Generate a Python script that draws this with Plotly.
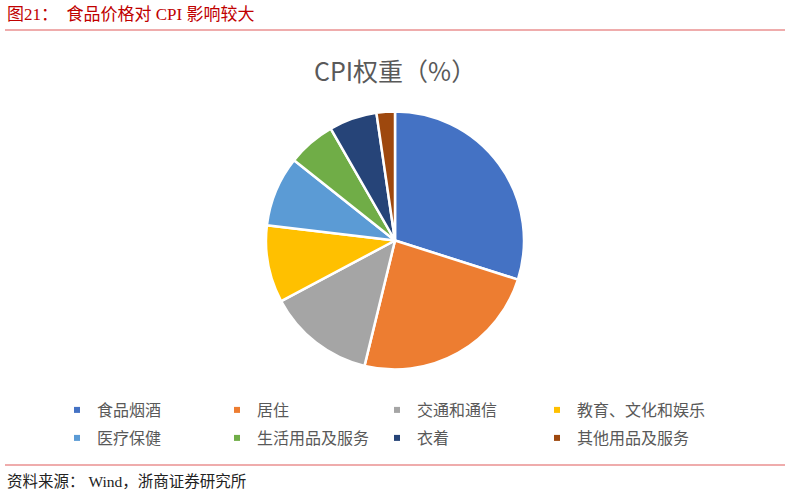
import plotly.graph_objects as go

categories = ["食品烟酒", "居住", "交通和通信", "教育、文化和娱乐",
              "医疗保健", "生活用品及服务", "衣着", "其他用品及服务"]
weights = [29.9, 23.9, 13.4, 9.7, 8.8, 6.0, 6.0, 2.3]
colors = ["#4472C4", "#ED7D31", "#A5A5A5", "#FFC000",
          "#5B9BD5", "#70AD47", "#264478", "#9E480E"]

W, H = 791, 495
CJK = "Noto Sans CJK SC"
SERIF = "Liberation Serif, Noto Sans CJK SC"

fig = go.Figure()
fig.add_trace(go.Pie(
    labels=categories, values=weights, sort=False, direction="clockwise",
    rotation=0, textinfo="none", hoverinfo="label+value",
    marker=dict(colors=colors, line=dict(color="white", width=2.5)),
    domain=dict(x=[266 / W, 524 / W], y=[1 - 369.5 / H, 1 - 111.5 / H]),
    showlegend=False,
))
# legend entries with small square markers
# row 1: first three in "legend", fourth in "legend3"; row 2 in "legend2"
legend_ids = ["legend", "legend", "legend", "legend3",
              "legend2", "legend2", "legend2", "legend2"]
for c, col, lg in zip(categories, colors, legend_ids):
    fig.add_trace(go.Scatter(
        x=[None], y=[None], mode="markers", name=c,
        marker=dict(symbol="square", size=6, color=col),
        showlegend=True, legend=lg,
    ))

leg_common = dict(
    orientation="h", xanchor="left", yanchor="middle",
    entrywidth=115, entrywidthmode="pixels", itemwidth=30,
    font=dict(family=CJK, size=16, color="#595959"),
    bgcolor="rgba(0,0,0,0)",
)
leg_x0 = 57

fig.update_layout(
    width=W, height=H,
    margin=dict(l=0, r=0, t=0, b=0, autoexpand=False),
    paper_bgcolor="white", plot_bgcolor="white",
    xaxis=dict(visible=False), yaxis=dict(visible=False),
    legend=dict(x=leg_x0 / W, y=1 - 410 / H, **leg_common),
    legend2=dict(x=leg_x0 / W, y=1 - 438 / H, **leg_common),
    legend3=dict(x=(leg_x0 + 480) / W, y=1 - 410 / H,
                 **{**leg_common, "entrywidth": 150}),
    shapes=[
        dict(type="line", xref="paper", yref="paper", x0=5 / W, x1=785 / W,
             y0=1 - 30 / H, y1=1 - 30 / H, line=dict(color="#E05A5A", width=1.2)),
        dict(type="line", xref="paper", yref="paper", x0=5 / W, x1=785 / W,
             y0=1 - 465 / H, y1=1 - 465 / H, line=dict(color="#E05A5A", width=1.2)),
    ],
    annotations=[
        dict(text="图21：  食品价格对 CPI 影响较大", xref="paper", yref="paper",
             x=5 / W, y=1 - 15 / H, xanchor="left", yanchor="middle", showarrow=False,
             font=dict(family=SERIF, size=17, color="#C00000")),
        dict(text="CPI权重（%）", xref="paper", yref="paper",
             x=395 / W, y=1 - 70 / H, xanchor="center", yanchor="middle", showarrow=False,
             font=dict(family=CJK, size=25, color="#595959")),
        dict(text="资料来源： Wind，浙商证券研究所", xref="paper", yref="paper",
             x=5 / W, y=1 - 481 / H, xanchor="left", yanchor="middle", showarrow=False,
             font=dict(family=SERIF, size=15.5, color="#222222")),
    ],
)

fig.write_html("out.html", config={"displayModeBar": False},
               post_script="document.body.style.margin='0';")
